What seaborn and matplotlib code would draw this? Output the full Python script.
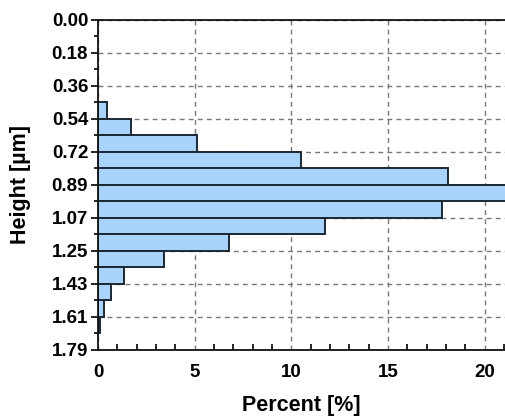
import numpy as np
import pandas as pd
import seaborn as sns
import matplotlib.pyplot as plt
from matplotlib.ticker import AutoMinorLocator, MultipleLocator

# histogram bins (height in um) and share of each bin in percent
bin_edges = [0.4475, 0.537, 0.6265, 0.716, 0.8055, 0.895, 0.9845, 1.074,
             1.1635, 1.253, 1.3425, 1.432, 1.5215, 1.611, 1.7005]
bin_centers = [0.49225, 0.58175, 0.67125, 0.76075, 0.85025, 0.93975, 1.02925,
               1.11875, 1.20825, 1.29775, 1.38725, 1.47675, 1.56625, 1.65575]
percent = [0.48, 1.72, 5.12, 10.5, 18.09, 21.9, 17.8,
           11.75, 6.8, 3.39, 1.34, 0.69, 0.29, 0.12]

ytick_pos = [0.0, 0.179, 0.358, 0.537, 0.716, 0.895, 1.074, 1.253, 1.432, 1.611, 1.79]
ytick_labels = ["0.00", "0.18", "0.36", "0.54", "0.72", "0.89",
                "1.07", "1.25", "1.43", "1.61", "1.79"]
xtick_pos = [0, 5, 10, 15, 20]

df = pd.DataFrame({"height": bin_centers, "percent": percent})

sns.set_style("white", {"text.color": "black", "axes.labelcolor": "black",
                        "xtick.color": "black", "ytick.color": "black"})
plt.rcParams['font.family'] = ['Liberation Sans', 'DejaVu Sans']
plt.rcParams['font.weight'] = 'bold'

fig = plt.figure(figsize=(5.05, 4.16), dpi=100)
ax = fig.add_axes([0.194, 0.1587, 0.806, 0.7933])

sns.histplot(data=df, y="height", weights="percent", bins=bin_edges,
             color="#a9d3fb", alpha=1, edgecolor="#1b2833", linewidth=1.4,
             ax=ax, zorder=2)

ax.set_ylim(1.79, 0)
ax.set_xlim(0, 21.05)
ax.set_yticks(ytick_pos)
ax.set_yticklabels(ytick_labels)
ax.set_xticks(xtick_pos)
ax.yaxis.set_minor_locator(AutoMinorLocator(2))
ax.xaxis.set_minor_locator(MultipleLocator(1))

ax.grid(True, which="major", linestyle=(0, (3.5, 3)), color="#777777", linewidth=1.0, zorder=0)
ax.set_axisbelow(True)

for s in ["left", "bottom", "top"]:
    ax.spines[s].set_color("#111111")
    ax.spines[s].set_linewidth(1.3)
ax.spines["right"].set_visible(False)

ax.tick_params(axis="y", which="major", direction="out", length=5, width=1.2,
               labelsize=13.5, pad=2, left=True, colors="black")
ax.tick_params(axis="y", which="minor", direction="out", length=3, width=1.2, left=True, colors="black")
ax.tick_params(axis="x", which="major", direction="in", length=0, labelsize=13.5, pad=10,
               bottom=True, colors="black")
ax.tick_params(axis="x", which="minor", direction="in", length=4, width=1.2, bottom=True, colors="black")
for lab in ax.get_xticklabels() + ax.get_yticklabels():
    lab.set_fontweight("bold")

ax.set_xlabel("Percent [%]", fontsize=15.5, fontweight="bold", labelpad=10, color="black")
ax.set_ylabel("Height [µm]", fontsize=15.5, fontweight="bold", labelpad=15, color="black")

fig.savefig("out.png", dpi=100)
